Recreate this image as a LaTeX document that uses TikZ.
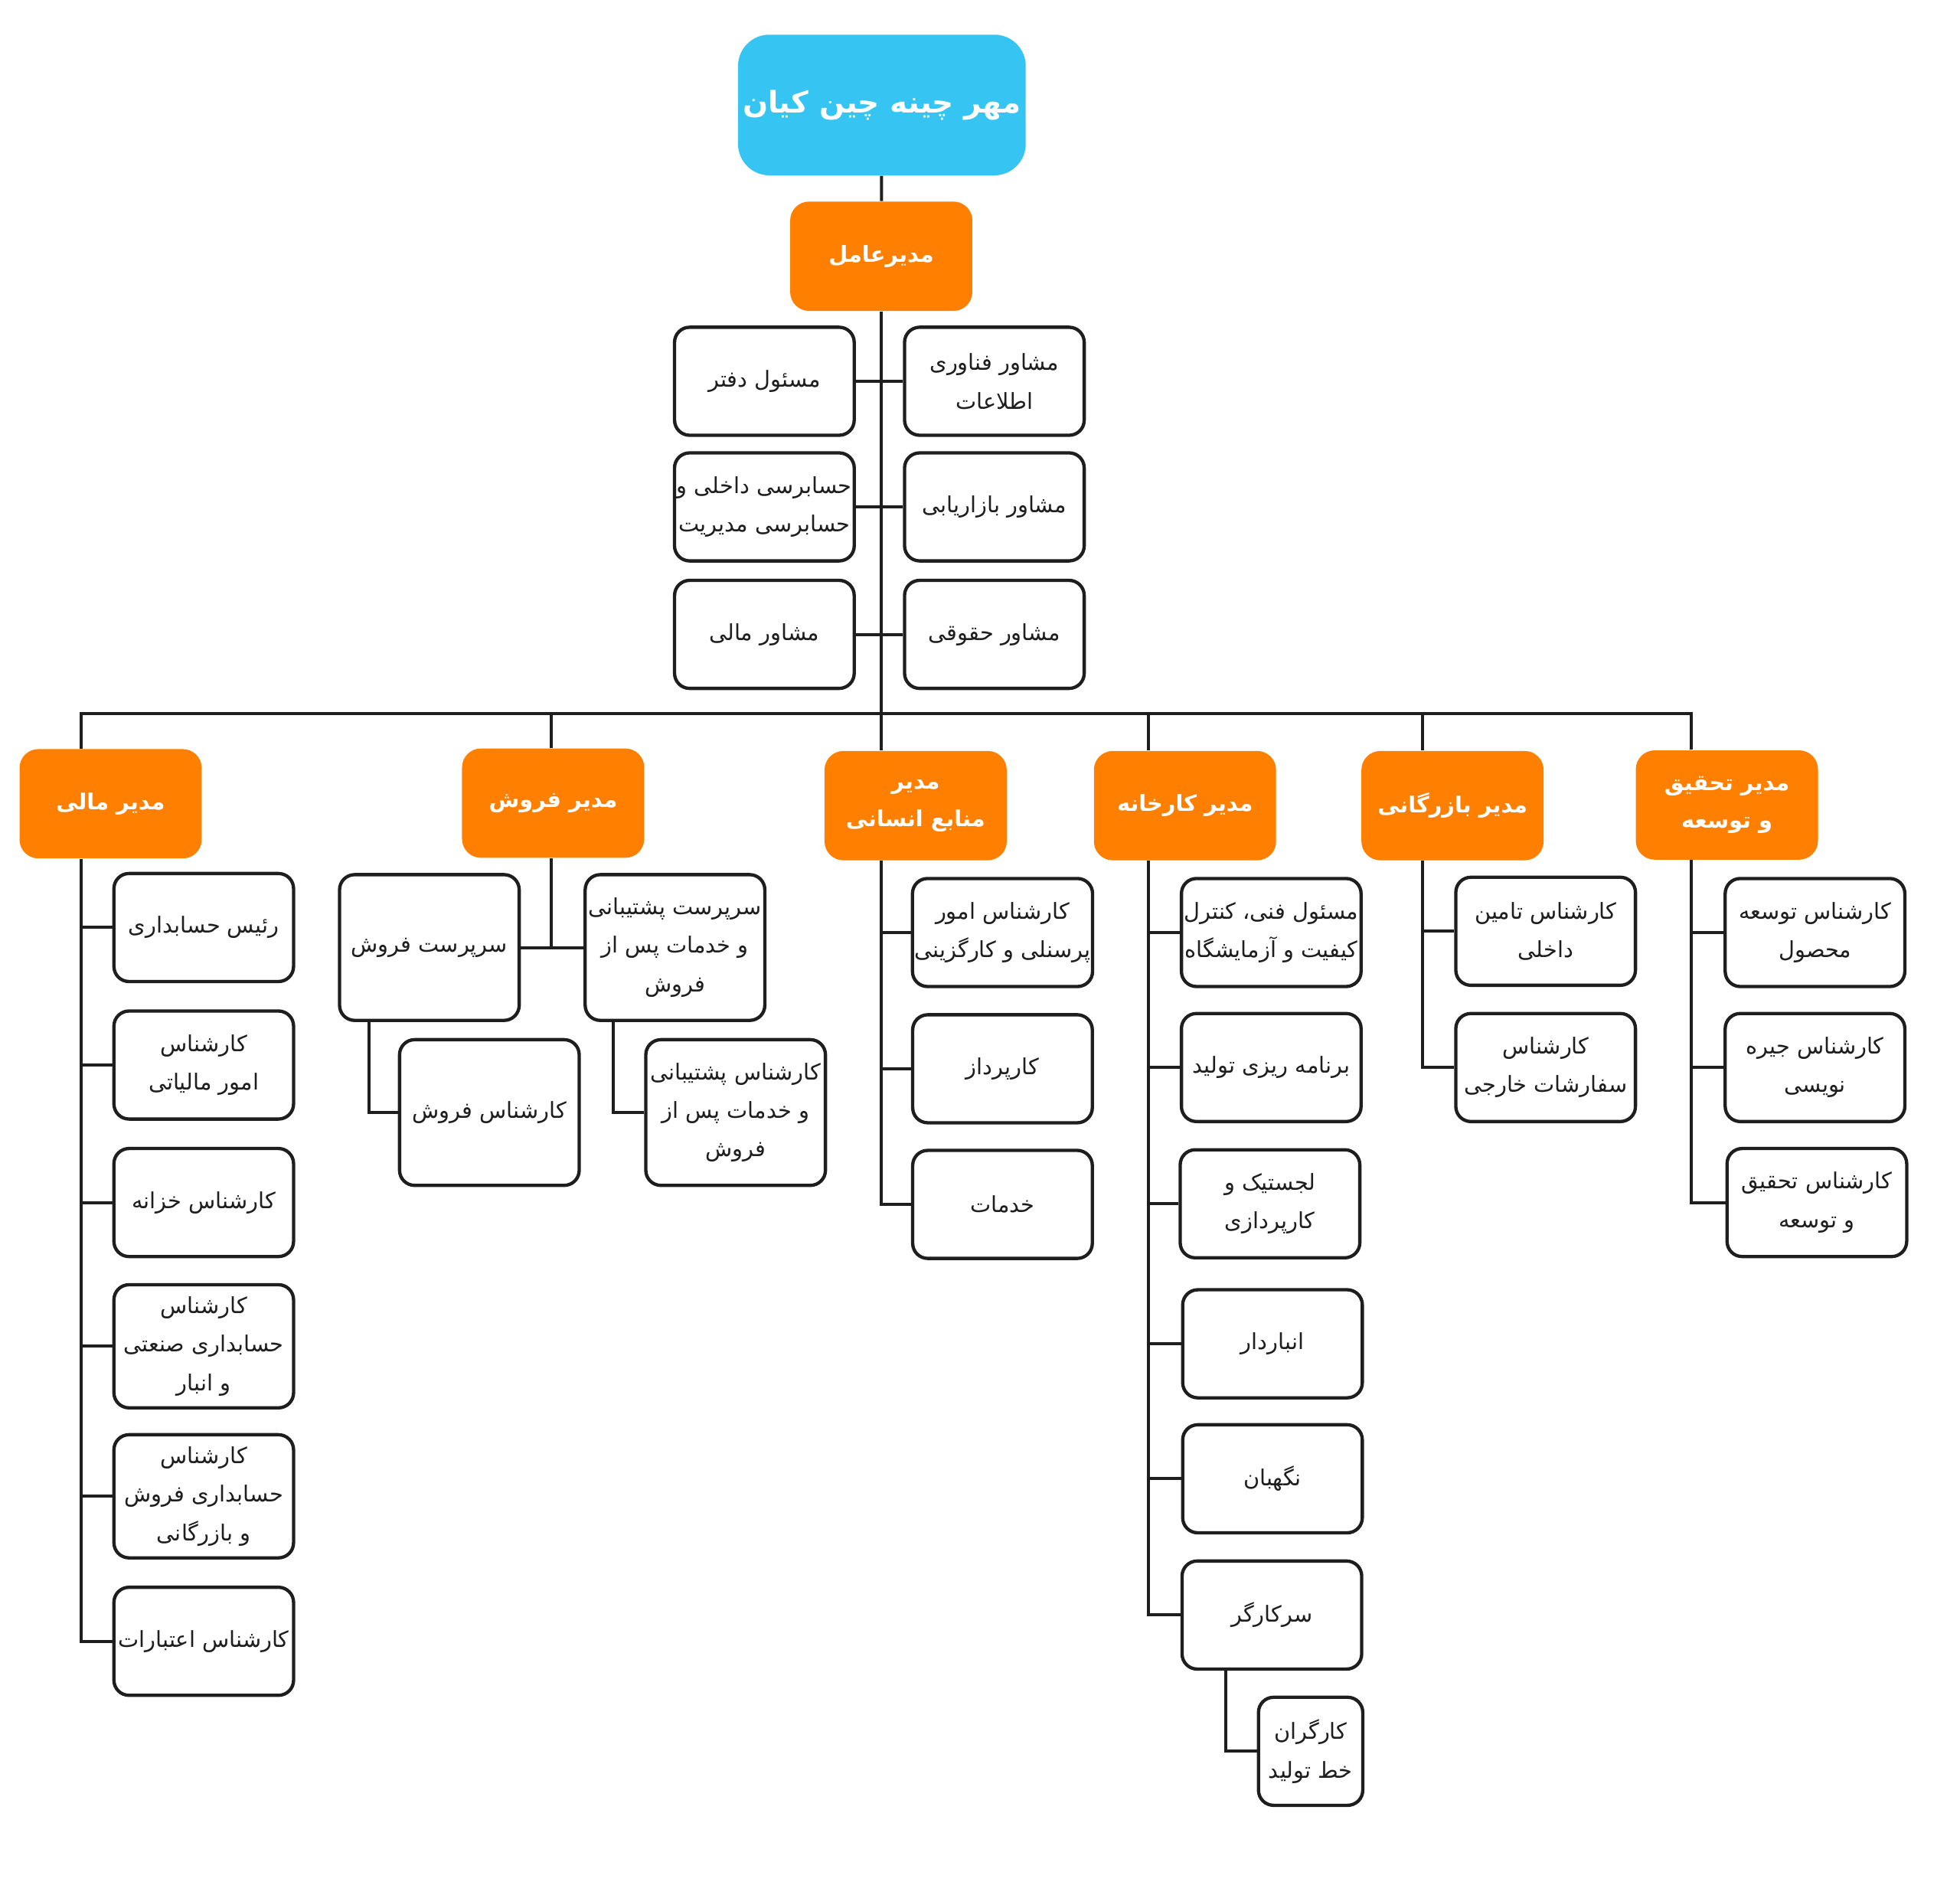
\documentclass[tikz,border=0pt]{standalone}
\usepackage{fontspec}
\usepackage{tikz}
\usetikzlibrary{calc}
\newfontfamily\farsi[Script=Arabic]{DejaVu Sans}
\TeXXeTstate=1
\newcommand{\fa}[1]{\beginR#1\endR}
\definecolor{sky}{RGB}{54,197,242}
\definecolor{amber}{RGB}{255,127,0}
\definecolor{ink}{RGB}{30,30,30}

\begin{document}
\begin{tikzpicture}[x=0.199mm,y=-0.199mm,
    box/.style={draw=ink,line width=1.5pt,fill=white,rounded corners=2.4mm,minimum width=28.6mm,minimum height=17.2mm,inner sep=1pt,align=center,text=ink,font=\farsi\fontsize{10}{17.5}\selectfont},
    head/.style={fill=amber,rounded corners=3mm,minimum width=29mm,minimum height=17.4mm,inner sep=1pt,align=center,text=white,font=\farsi\bfseries\fontsize{10}{17}\selectfont},
    wire/.style={draw=ink,line width=1.4pt}]
    \useasboundingbox (0,0) rectangle (1568,1507.5);
    \node (top) [head, fill=sky, rounded corners=5mm, minimum width=45.8mm, minimum height=22.4mm, font=\farsi\bfseries\fontsize{13.5}{20}\selectfont] at (705.5,84) {\fa{مهر چینه چین کیان}};
    \node (ceo) [head] at (705,205) {\fa{مدیرعامل}};
    % advisors
    \node (adl1) [box] at (611.5,305) {\fa{مسئول دفتر}};
    \node (adr1) [box] at (795.5,305) {\fa{مشاور فناوری}\\\fa{اطلاعات}};
    \node (adl2) [box] at (611.5,405.5) {\fa{حسابرسی داخلی و}\\\fa{حسابرسی مدیریت}};
    \node (adr2) [box] at (795.5,405.5) {\fa{مشاور بازاریابی}};
    \node (adl3) [box] at (611.5,507.5) {\fa{مشاور مالی}};
    \node (adr3) [box] at (795.5,507.5) {\fa{مشاور حقوقی}};
    % managers
    \node (fin) [head] at (88.5,643) {\fa{مدیر مالی}};
    \node (sal) [head] at (442.5,642.5) {\fa{مدیر فروش}};
    \node (hr) [head] at (732.5,644.5) {\fa{مدیر}\\\fa{منابع انسانی}};
    \node (fac) [head] at (948,644.5) {\fa{مدیر کارخانه}};
    \node (com) [head] at (1162,644.5) {\fa{مدیر بازرگانی}};
    \node (rd) [head] at (1381.5,644) {\fa{مدیر تحقیق}\\\fa{و توسعه}};
    \coordinate (finx) at (65,571);
    \coordinate (salx) at (441,571);
    \coordinate (hrx) at (705,571);
    \coordinate (facx) at (919,571);
    \coordinate (comx) at (1138,571);
    \coordinate (rdx) at (1353,571);
    % finance
    \node (fin1) [box] at (163,742) {\fa{رئیس حسابداری}};
    \node (fin2) [box] at (163,852) {\fa{کارشناس}\\\fa{امور مالیاتی}};
    \node (fin3) [box] at (163,962) {\fa{کارشناس خزانه}};
    \node (fin4) [box, minimum height=19.6mm] at (163,1077) {\fa{کارشناس}\\\fa{حسابداری صنعتی}\\\fa{و انبار}};
    \node (fin5) [box, minimum height=19.6mm] at (163,1197) {\fa{کارشناس}\\\fa{حسابداری فروش}\\\fa{و بازرگانی}};
    \node (fin6) [box] at (163,1313) {\fa{کارشناس اعتبارات}};
    % sales
    \node (ss1) [box, minimum height=23.2mm] at (343.5,758) {\fa{سرپرست فروش}};
    \node (ss2) [box, minimum height=23.2mm] at (540,758) {\fa{سرپرست پشتیبانی}\\\fa{و خدمات پس از}\\\fa{فروش}};
    \node (se1) [box, minimum height=23.2mm] at (391.5,890) {\fa{کارشناس فروش}};
    \node (se2) [box, minimum height=23.2mm] at (588.5,890) {\fa{کارشناس پشتیبانی}\\\fa{و خدمات پس از}\\\fa{فروش}};
    % human resources
    \node (hr1) [box] at (802,746) {\fa{کارشناس امور}\\\fa{پرسنلی و کارگزینی}};
    \node (hr2) [box] at (802,855) {\fa{کارپرداز}};
    \node (hr3) [box] at (802,963.5) {\fa{خدمات}};
    % factory
    \node (fac1) [box] at (1017,746) {\fa{مسئول فنی، کنترل}\\\fa{کیفیت و آزمایشگاه}};
    \node (fac2) [box] at (1017,854) {\fa{برنامه ریزی تولید}};
    \node (fac3) [box] at (1016,963) {\fa{لجستیک و}\\\fa{کارپردازی}};
    \node (fac4) [box] at (1018,1075) {\fa{انباردار}};
    \node (fac5) [box] at (1018,1183) {\fa{نگهبان}};
    \node (fac6) [box] at (1017.5,1292) {\fa{سرکارگر}};
    \node (fac7) [box, minimum width=16.6mm] at (1048.5,1401) {\fa{کارگران}\\\fa{خط تولید}};
    % commerce
    \node (com1) [box] at (1236.5,745) {\fa{کارشناس تامین}\\\fa{داخلی}};
    \node (com2) [box] at (1236.5,854) {\fa{کارشناس}\\\fa{سفارشات خارجی}};
    % research
    \node (rd1) [box] at (1452,746) {\fa{کارشناس توسعه}\\\fa{محصول}};
    \node (rd2) [box] at (1452,854) {\fa{کارشناس جیره}\\\fa{نویسی}};
    \node (rd3) [box] at (1453.5,962) {\fa{کارشناس تحقیق}\\\fa{و توسعه}};
    % connectors
    \draw[wire] (top) -- (ceo);
    \draw[wire] (ceo) -- (hrx);
    \draw[wire] (adl1) -- (adr1);
    \draw[wire] (adl2) -- (adr2);
    \draw[wire] (adl3) -- (adr3);
    \draw[wire] (fin.north -| finx) -- (finx) -- (rdx) -- (rd.north -| rdx);
    \draw[wire] (salx) -- (sal.north -| salx);
    \draw[wire] (hrx) -- (hr.north -| hrx);
    \draw[wire] (facx) -- (fac.north -| facx);
    \draw[wire] (comx) -- (com.north -| comx);
    \draw[wire] (fin.south -| finx) |- (fin1.west) (fin.south -| finx) |- (fin2.west) (fin.south -| finx) |- (fin3.west)
        (fin.south -| finx) |- (fin4.west) (fin.south -| finx) |- (fin5.west) (fin.south -| finx) |- (fin6.west);
    \draw[wire] (sal.south -| salx) -- (salx |- ss1.east);
    \draw[wire] (ss1) -- (ss2);
    \draw[wire] ($(ss1.south west)+(25,0)$) |- (se1.west);
    \draw[wire] ($(ss2.south west)+(24,0)$) |- (se2.west);
    \draw[wire] (hr.south -| hrx) |- (hr1.west) (hr.south -| hrx) |- (hr2.west) (hr.south -| hrx) |- (hr3.west);
    \draw[wire] (fac.south -| facx) |- (fac1.west) (fac.south -| facx) |- (fac2.west) (fac.south -| facx) |- (fac3.west)
        (fac.south -| facx) |- (fac4.west) (fac.south -| facx) |- (fac5.west) (fac.south -| facx) |- (fac6.west);
    \draw[wire] ($(fac6.south west)+(36,0)$) |- (fac7.west);
    \draw[wire] (com.south -| comx) |- (com1.west) (com.south -| comx) |- (com2.west);
    \draw[wire] (rd.south -| rdx) |- (rd1.west) (rd.south -| rdx) |- (rd2.west) (rd.south -| rdx) |- (rd3.west);
\end{tikzpicture}
\end{document}
